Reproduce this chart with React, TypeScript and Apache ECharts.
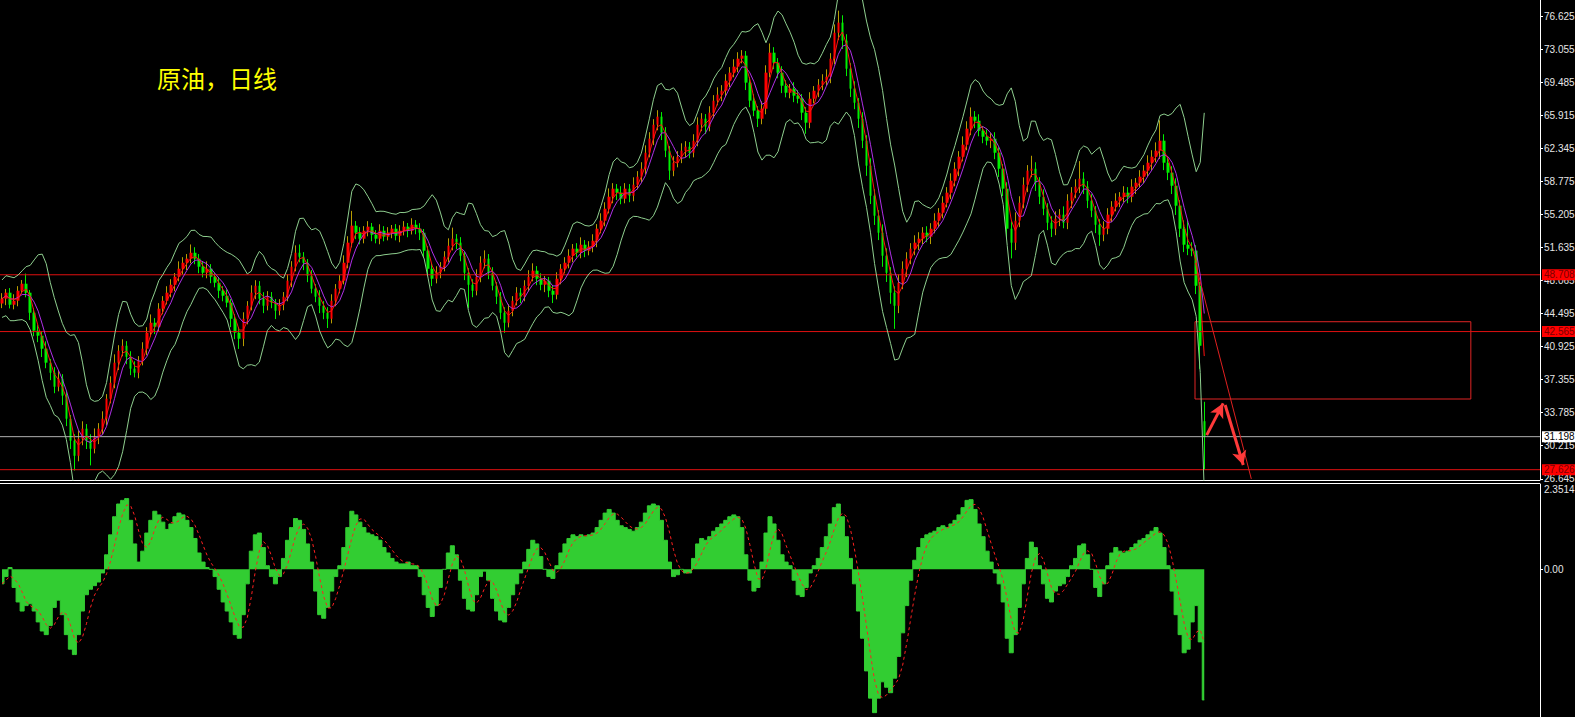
import React, { useEffect, useRef } from "react";
import * as echarts from "echarts";

// ---------------- data ----------------
const title = "原油，日线";

// closing prices, one bar per ~4 trading days (oldest -> newest)
const closes = [
  46.12, 46.77, 45.47, 45.9, 46.98, 47.74, 46.77, 44.6, 42.66, 42.12,
  40.71, 39.2, 38.11, 36.6, 37.46, 35.63, 33.14, 30.76, 29.13, 30.97,
  32.06, 30.76, 29.89, 31.19, 32.06, 33.14, 35.3, 37.03, 39.2, 40.49,
  41.03, 39.84, 38.55, 38.11, 39.41, 40.71, 42.44, 43.52, 43.09, 45.04,
  45.9, 46.77, 47.63, 48.5, 49.36, 50.01, 50.45, 51.09, 50.45, 49.58,
  48.93, 49.36, 48.5, 47.85, 46.98, 46.44, 45.69, 43.95, 42.44, 41.79,
  43.95, 45.36, 46.77, 47.52, 46.12, 45.36, 46.34, 45.69, 44.82, 45.47,
  46.34, 48.07, 49.58, 51.09, 50.66, 50.01, 48.61, 47.2, 46.34, 45.36,
  44.6, 43.95, 45.9, 47.2, 48.07, 50.01, 52.18, 54.02, 53.26, 52.61,
  53.47, 53.91, 53.04, 52.61, 53.47, 52.83, 53.26, 53.69, 52.93, 53.47,
  53.91, 53.47, 54.12, 53.69, 53.26, 51.31, 49.36, 48.28, 48.93, 49.58,
  50.66, 51.85, 52.61, 52.18, 50.77, 48.93, 47.63, 46.98, 48.5, 50.01,
  50.45, 48.93, 47.52, 46.34, 44.6, 43.52, 44.82, 45.9, 46.77, 46.34,
  47.52, 48.5, 49.15, 48.28, 47.63, 48.07, 46.98, 46.55, 48.28, 49.36,
  50.01, 50.77, 51.53, 51.09, 51.96, 51.31, 51.74, 52.39, 53.69, 54.56,
  55.85, 57.15, 58.02, 57.59, 56.94, 58.02, 57.26, 58.45, 59.32, 60.18,
  61.91, 63.43, 64.94, 65.81, 64.08, 62.13, 59.97, 60.83, 61.48, 62.13,
  62.56, 61.91, 63.21, 64.94, 65.59, 64.73, 66.24, 67.54, 68.19, 68.62,
  69.7, 70.57, 71.22, 72.08, 72.41, 69.49, 67.54, 66.46, 65.59, 66.67,
  70.57, 72.73, 71.65, 70.57, 69.16, 68.4, 68.84, 68.08, 67.75, 66.24,
  65.16, 67.75, 68.62, 69.27, 69.7, 70.13, 72.08, 74.89, 75.98, 74.03,
  71.0, 68.84, 67.32, 65.59, 63.21, 60.51, 57.26, 55.1, 53.26, 50.77,
  48.93, 46.77, 45.36, 47.85, 49.36, 50.45, 51.53, 52.18, 52.61, 53.26,
  52.83, 53.69, 54.56, 55.42, 56.5, 57.59, 58.88, 60.18, 61.48, 62.78,
  64.51, 65.81, 65.37, 64.29, 63.64, 63.21, 63.43, 61.91, 60.18, 58.02,
  53.69, 52.18, 54.56, 56.5, 58.45, 59.97, 60.18, 58.67, 57.15, 55.85,
  54.34, 53.69, 54.77, 55.21, 54.34, 56.72, 57.59, 58.24, 59.1, 58.24,
  56.72, 55.64, 54.12, 53.04, 53.69, 55.21, 56.07, 56.72, 57.15, 57.59,
  57.15, 58.24, 58.67, 59.32, 59.97, 60.83, 61.48, 62.13, 63.21, 60.83,
  59.75, 58.34, 56.18, 53.69, 51.96, 51.53, 51.31, 47.52, 41.03, 31.198,
];

// opens equal the previous close except where the picture shows otherwise
const openOverrides: Record<number, number> = { 0: 45.6, 299: 32.87 };

// upper / lower shadow lengths (price units)
const upWick = [
  0.6, 0.4, 0.5, 0.7, 0.5, 0.4, 1.1, 0.3, 0.5, 0.6,
  0.5, 0.8, 0.4, 0.6, 0.9, 0.5, 0.6, 0.4, 0.7, 0.9,
  0.8, 0.5, 0.7, 0.9, 0.6, 0.8, 0.5, 0.7, 0.9, 0.6,
  0.7, 0.5, 0.6, 0.8, 0.5, 0.7, 0.6, 0.9, 0.5, 0.6,
  0.5, 0.7, 0.6, 0.4, 0.8, 0.6, 0.5, 0.9, 0.6, 0.5,
  0.6, 0.8, 0.5, 0.4, 0.6, 0.5, 0.7, 0.4, 0.5, 0.6,
  0.7, 0.5, 0.8, 0.6, 0.5, 0.7, 0.6, 0.5, 0.4, 0.6,
  0.5, 0.7, 0.6, 0.8, 0.9, 0.5, 0.4, 0.6, 0.5, 0.7,
  0.5, 0.6, 0.7, 0.5, 0.6, 0.8, 0.7, 1.6, 0.5, 0.6,
  0.5, 0.6, 0.4, 0.5, 0.7, 0.5, 0.6, 0.4, 0.5, 0.6,
  0.6, 0.4, 0.7, 0.5, 0.6, 0.4, 0.5, 0.6, 0.7, 0.5,
  0.6, 0.8, 1.2, 0.5, 0.6, 0.4, 0.5, 0.6, 0.8, 0.7,
  0.9, 0.5, 0.6, 0.4, 0.5, 0.6, 0.7, 0.5, 0.6, 0.5,
  0.6, 0.7, 0.8, 0.5, 0.6, 0.5, 0.4, 0.6, 0.7, 0.5,
  0.6, 0.7, 0.5, 0.6, 0.8, 0.5, 0.6, 0.7, 0.5, 0.8,
  0.7, 0.9, 0.6, 0.5, 0.7, 0.6, 0.5, 0.8, 0.6, 0.7,
  0.8, 0.7, 0.6, 0.7, 0.5, 0.6, 0.5, 0.7, 0.6, 0.8,
  0.6, 0.5, 0.7, 0.8, 0.6, 0.5, 0.7, 0.6, 0.8, 0.6,
  0.7, 0.6, 0.8, 0.7, 0.6, 0.5, 0.6, 0.7, 0.5, 0.8,
  0.8, 1.0, 0.6, 0.5, 0.7, 0.6, 0.5, 0.7, 0.6, 0.5,
  0.6, 0.7, 0.5, 0.6, 0.7, 0.8, 0.6, 0.9, 1.3, 0.8,
  0.7, 0.6, 0.8, 0.5, 0.7, 0.6, 0.8, 0.7, 0.6, 0.9,
  0.8, 0.6, 0.7, 0.9, 0.8, 0.7, 0.6, 0.8, 0.7, 0.6,
  0.7, 0.6, 0.8, 0.5, 0.7, 0.6, 0.8, 0.7, 0.6, 0.9,
  0.8, 1.0, 0.6, 0.7, 0.5, 0.8, 0.6, 0.7, 0.6, 0.5,
  0.7, 0.8, 0.9, 0.7, 0.8, 0.6, 1.4, 0.7, 0.6, 0.8,
  0.6, 0.7, 0.8, 0.6, 0.9, 0.7, 0.6, 0.8, 1.9, 0.7,
  0.6, 0.7, 0.5, 0.6, 0.8, 0.7, 0.6, 0.8, 0.5, 0.7,
  0.6, 0.8, 0.5, 0.7, 0.6, 0.8, 0.7, 0.9, 2.2, 0.7,
  0.6, 0.7, 0.8, 0.6, 0.9, 2.6, 0.7, 0.6, 0.4, 2.1,
];
const dnWick = [
  0.5, 0.7, 0.4, 0.5, 0.6, 0.3, 0.5, 0.8, 0.6, 0.7,
  0.9, 0.6, 0.8, 0.7, 0.5, 1.0, 0.8, 0.9, 1.6, 0.6,
  0.7, 0.9, 1.8, 0.5, 0.8, 0.6, 0.7, 0.5, 0.6, 0.8,
  0.6, 0.8, 0.7, 0.5, 0.6, 0.5, 0.7, 0.4, 0.8, 0.5,
  0.6, 0.4, 0.5, 0.7, 0.5, 0.6, 0.8, 0.5, 0.6, 0.7,
  0.5, 0.6, 0.7, 0.5, 0.8, 0.6, 0.5, 0.9, 0.7, 1.1,
  0.8, 0.6, 0.5, 0.7, 0.6, 0.8, 0.5, 0.6, 0.9, 0.5,
  0.6, 0.5, 0.7, 0.5, 0.6, 0.8, 0.7, 0.5, 0.6, 0.8,
  0.7, 1.0, 0.5, 0.6, 0.5, 0.4, 0.6, 0.5, 0.7, 0.6,
  0.5, 0.6, 0.7, 0.5, 0.6, 0.5, 0.4, 0.6, 0.5, 0.7,
  0.5, 0.7, 0.4, 0.6, 0.8, 0.7, 0.6, 0.8, 0.5, 0.6,
  0.5, 0.6, 0.5, 0.7, 0.6, 0.8, 2.5, 0.7, 0.5, 0.6,
  0.6, 0.7, 0.5, 0.8, 0.7, 1.1, 0.5, 0.6, 0.5, 0.7,
  0.5, 0.6, 0.5, 0.7, 0.6, 0.8, 0.7, 0.9, 0.5, 0.6,
  0.5, 0.6, 0.7, 0.5, 0.6, 0.7, 0.5, 0.6, 0.7, 0.5,
  0.6, 0.5, 0.7, 0.8, 0.6, 0.5, 0.7, 0.6, 0.5, 0.6,
  0.6, 0.5, 0.7, 0.6, 0.8, 0.7, 1.0, 0.6, 0.5, 0.7,
  0.7, 0.6, 0.5, 0.6, 0.7, 0.8, 0.5, 0.6, 0.5, 0.7,
  0.6, 0.7, 0.5, 0.6, 0.5, 0.8, 0.7, 0.6, 0.9, 0.6,
  0.6, 0.5, 0.7, 0.6, 0.8, 0.5, 0.6, 0.7, 0.5, 0.8,
  1.2, 0.6, 0.5, 0.7, 0.6, 0.5, 0.7, 0.6, 0.8, 0.9,
  0.8, 0.9, 0.7, 1.0, 0.8, 1.1, 0.9, 1.0, 0.8, 1.2,
  1.0, 1.2, 2.5, 0.8, 0.7, 0.9, 0.6, 0.7, 0.8, 0.6,
  0.6, 0.8, 0.5, 0.7, 0.6, 0.5, 0.7, 0.6, 0.8, 0.5,
  0.6, 0.7, 0.8, 0.6, 0.7, 0.5, 0.8, 0.7, 0.9, 0.8,
  1.0, 1.7, 0.8, 0.7, 0.6, 0.8, 0.7, 0.9, 0.8, 0.7,
  0.8, 0.9, 0.7, 0.8, 0.6, 0.7, 0.8, 0.6, 0.7, 0.8,
  0.8, 0.7, 0.9, 1.2, 0.7, 0.6, 0.8, 0.5, 0.7, 0.6,
  0.7, 0.6, 0.8, 0.5, 0.7, 0.6, 0.8, 0.6, 0.9, 0.8,
  0.8, 0.9, 1.0, 0.9, 0.8, 0.7, 0.6, 0.9, 2.5, 3.572,
];

// MACD main line (histogram)
const macdMain = [
  -0.4, -0.2, 0.05, -0.5, -0.9, -1.15, -1.0, -0.95, -1.15, -1.45,
  -1.7, -1.8, -1.55, -1.05, -0.85, -1.25, -1.8, -2.2, -2.35, -1.8,
  -1.15, -0.7, -0.55, -0.45, -0.35, -0.1, 0.4, 0.95, 1.45, 1.8,
  1.9, 1.95, 1.35, 0.7, 0.2, 0.5, 1.0, 1.35, 1.6, 1.5,
  1.3, 1.1, 1.25, 1.45, 1.55, 1.5, 1.35, 1.15, 0.85, 0.45,
  0.2, 0.05, 0.0, -0.2, -0.55, -0.9, -1.15, -1.45, -1.8, -1.9,
  -1.25, -0.4, 0.5, 0.95, 1.0, 0.6, 0.1, -0.2, -0.4, -0.2,
  0.3, 0.8, 1.15, 1.4, 1.35, 1.1, 0.7, 0.2, -0.6, -1.25,
  -1.35, -1.05, -0.6, -0.2, 0.1, 0.6, 1.15, 1.6, 1.5, 1.3,
  1.15, 1.0, 0.95, 0.9, 0.8, 0.6, 0.45, 0.3, 0.2, 0.15,
  0.15, 0.2, 0.1, 0.1, -0.2, -0.7, -1.05, -1.3, -1.0, -0.5,
  0.0, 0.45, 0.65, 0.4, -0.3, -0.8, -1.1, -1.15, -0.7, -0.2,
  -0.05, -0.3, -0.8, -1.15, -1.4, -1.45, -1.05, -0.7, -0.4, -0.1,
  0.2, 0.55, 0.8, 0.7, 0.35, 0.0, -0.2, -0.25, 0.1, 0.45,
  0.7, 0.85, 0.95, 0.9, 0.95, 0.9, 0.95, 1.0, 1.15, 1.35,
  1.55, 1.65, 1.55, 1.35, 1.2, 1.15, 1.1, 1.05, 1.15, 1.3,
  1.55, 1.75, 1.8, 1.75, 1.35, 0.8, 0.2, -0.2, -0.15, 0.0,
  -0.1, -0.1, 0.3, 0.7, 0.85, 0.8, 0.9, 1.05, 1.15, 1.25,
  1.35, 1.45, 1.5, 1.45, 1.15, 0.4, -0.3, -0.6, -0.5, 0.2,
  1.0, 1.45, 1.25, 0.8, 0.4, 0.2, 0.1, -0.3, -0.7, -0.75,
  -0.5, -0.1, 0.1, 0.3, 0.6, 0.9, 1.25, 1.7, 1.8, 1.45,
  0.9, 0.3, -0.4, -1.15, -1.9, -2.8, -3.55, -3.95, -3.55, -3.1,
  -3.25, -3.4, -3.0, -2.4, -1.75, -1.0, -0.3, 0.25, 0.6, 0.85,
  0.95, 1.0, 1.05, 1.15, 1.2, 1.15, 1.25, 1.35, 1.5, 1.7,
  1.9, 1.92, 1.65, 1.25, 0.9, 0.5, 0.2, -0.1, -0.4, -0.9,
  -1.9, -2.3, -1.8, -1.05, -0.4, 0.3, 0.75, 0.6, 0.1, -0.4,
  -0.8, -0.9, -0.6, -0.45, -0.4, -0.2, 0.1, 0.3, 0.65, 0.7,
  0.4, 0.0, -0.5, -0.75, -0.4, 0.1, 0.45, 0.6, 0.5, 0.45,
  0.5, 0.6, 0.7, 0.8, 0.85, 0.95, 1.05, 1.15, 1.0, 0.6,
  0.1, -0.6, -1.25, -1.8, -2.3, -2.2, -1.45, -1.0, -2.0, -3.6,
];

// right-axis tick labels
const priceTicks = [
  26.645, 30.215, 33.785, 37.355, 40.925, 44.495, 48.065, 51.635,
  55.205, 58.775, 62.345, 65.915, 69.485, 73.055, 76.625,
];
const priceMin = 26.51;
const priceMax = 78.43;
const macdMax = 2.3514;
const macdMin = -4.07;
const macdTicks = [0, macdMax];

// horizontal level lines and their kinds
const levels = [48.708, 42.565, 31.198, 27.626];
const levelKinds = ["res", "res", "bid", "res"];

// drawn annotations in (bar index, price)
const boxCorners = [
  [296.7, 43.63],
  [365.3, 35.27],
];
const trendLine = [
  [296.8, 49.98],
  [310.7, 26.63],
];
const arrowUp = [
  [299.6, 31.37],
  [303.7, 34.8],
];
const arrowDown = [
  [304.2, 34.62],
  [308.7, 28.13],
];

const slotCount = 383; // visible bar slots incl. right-side shift
const BB_PERIOD = 6;
const BB_MULT = 2.5;
const MA_MID = 5;
const MA_FAST = 3;
const SIGNAL_PERIOD = 4;

// ---------------- derived series ----------------
const opens = closes.map((c, i) =>
  openOverrides[i] !== undefined ? openOverrides[i] : closes[i - 1]
);
const highs = closes.map((c, i) => Math.max(opens[i], c) + upWick[i]);
const lows = closes.map((c, i) => Math.min(opens[i], c) - dnWick[i]);

const mean = (a: number[]) => a.reduce((s, v) => s + v, 0) / a.length;
function sma(arr: number[], n: number): number[] {
  return arr.map((_, i) => mean(arr.slice(Math.max(0, i - n + 1), i + 1)));
}
const bbBase = sma(closes, BB_PERIOD);
const bbDev = closes.map((_, i) => {
  const pts: number[] = [];
  for (let k = Math.max(0, i - BB_PERIOD + 1); k <= i; k++) pts.push(highs[k], lows[k]);
  const m = mean(pts);
  return Math.sqrt(mean(pts.map((p) => (p - m) * (p - m))));
});
const bbUpper = bbBase.map((m, i) => +(m + BB_MULT * bbDev[i]).toFixed(3));
const bbLower = bbBase.map((m, i) => +(m - BB_MULT * bbDev[i]).toFixed(3));
const maMid = sma(closes, MA_MID).map((v) => +v.toFixed(3));
const maFast = sma(closes, MA_FAST).map((v) => +v.toFixed(3));
const macdSignal = sma(macdMain, SIGNAL_PERIOD).map((v) => +v.toFixed(3));

const cats = Array.from({ length: slotCount }, (_, i) => String(i));
const wickData = closes.map((c, i) => [opens[i], c, lows[i], highs[i]]);
const bodyData = closes.map((c, i) => [
  opens[i],
  c,
  Math.min(opens[i], c),
  Math.max(opens[i], c),
]);

const AXIS_FONT = "Liberation Sans";

export default function App() {
  const ref = useRef<HTMLDivElement>(null);
  useEffect(() => {
    if (!ref.current) return;
    const chart = echarts.init(ref.current, null, { renderer: "svg" });
    const arrowStyle = { color: "#ff3a3a", width: 3, type: "solid" };

    // horizontal price levels as 2-point line series across the whole pane
    const levelSeries = levels.map((v, k) => {
      const bid = levelKinds[k] === "bid";
      const color = bid ? "#b0b0b0" : "#e01010";
      return {
        type: "line",
        name: "level " + v,
        xAxisIndex: 2,
        yAxisIndex: 0,
        data: [
          [-0.5, v],
          [slotCount - 0.5, v],
        ],
        showSymbol: false,
        symbol: "none",
        silent: true,
        z: 3,
        lineStyle: { color, width: 1, type: "solid", opacity: 1 },
        itemStyle: { color },
        endLabel: {
          show: true,
          distance: 2,
          formatter: v.toFixed(3),
          backgroundColor: bid ? "#ffffff" : "#ff0000",
          color: bid ? "#000000" : "#7a0000",
          fontSize: 10,
          fontFamily: AXIS_FONT,
          padding: [1, 1, 0, 2],
        },
      };
    });

    const option: any = {
      animation: false,
      backgroundColor: "#000000",
      grid: [
        { left: 0, right: 35, top: 0, height: 480, outerBoundsMode: "none" },
        { left: 0, right: 35, top: 484, bottom: 0, outerBoundsMode: "none" },
      ],
      xAxis: [
        { type: "category", gridIndex: 0, data: cats, show: false, boundaryGap: true },
        { type: "category", gridIndex: 1, data: cats, show: false, boundaryGap: true },
        { type: "value", gridIndex: 0, min: -0.5, max: slotCount - 0.5, show: false },
      ],
      yAxis: [
        {
          type: "value",
          gridIndex: 0,
          position: "right",
          min: priceMin,
          max: priceMax,
          splitLine: { show: false },
          axisLine: { show: true, onZero: false, lineStyle: { color: "#ffffff", width: 1 } },
          axisTick: {
            show: true,
            length: 3,
            customValues: priceTicks,
            lineStyle: { color: "#ffffff" },
          },
          axisLabel: {
            customValues: priceTicks,
            formatter: (v: number) => v.toFixed(3),
            color: "#e6e6e6",
            fontSize: 10,
            fontFamily: AXIS_FONT,
            margin: 4,
          },
        },
        {
          type: "value",
          gridIndex: 1,
          position: "right",
          min: macdMin,
          max: macdMax,
          splitLine: { show: false },
          axisLine: { show: true, onZero: false, lineStyle: { color: "#ffffff", width: 1 } },
          axisTick: {
            show: true,
            length: 3,
            customValues: [0],
            lineStyle: { color: "#ffffff" },
          },
          axisLabel: {
            customValues: macdTicks,
            formatter: (v: number) => (v === 0 ? "0.00" : "{top|" + v.toFixed(4) + "}"),
            color: "#e6e6e6",
            fontSize: 10,
            fontFamily: AXIS_FONT,
            margin: 4,
            rich: { top: { padding: [11, 0, 0, 0], fontSize: 10, fontFamily: AXIS_FONT, color: "#e6e6e6" } },
          },
        },
      ],
      series: [
        ...levelSeries,
        {
          type: "candlestick",
          name: "wick",
          xAxisIndex: 0,
          yAxisIndex: 0,
          data: wickData,
          barWidth: 1,
          silent: true,
          itemStyle: {
            color: "#b89c00",
            color0: "#00ee00",
            borderColor: "#b89c00",
            borderColor0: "#00ee00",
            borderWidth: 1,
          },
        },
        {
          type: "candlestick",
          name: "body",
          xAxisIndex: 0,
          yAxisIndex: 0,
          data: bodyData,
          barWidth: 3,
          silent: true,
          itemStyle: {
            color: "#ff0000",
            color0: "#00f000",
            borderColor: "#ff0000",
            borderColor0: "#00f000",
            borderWidth: 0,
          },
        },
        {
          type: "line",
          name: "BB upper",
          xAxisIndex: 0,
          yAxisIndex: 0,
          data: bbUpper,
          showSymbol: false,
          silent: true,
          lineStyle: { color: "#8fcf8f", width: 1 },
        },
        {
          type: "line",
          name: "BB lower",
          xAxisIndex: 0,
          yAxisIndex: 0,
          data: bbLower,
          showSymbol: false,
          silent: true,
          lineStyle: { color: "#8fcf8f", width: 1 },
        },
        {
          type: "line",
          name: "MA mid",
          xAxisIndex: 0,
          yAxisIndex: 0,
          data: maMid,
          showSymbol: false,
          silent: true,
          lineStyle: { color: "#b030e8", width: 1 },
        },
        {
          type: "line",
          name: "MA fast",
          xAxisIndex: 0,
          yAxisIndex: 0,
          data: maFast,
          showSymbol: false,
          silent: true,
          lineStyle: { color: "#ff1010", width: 1 },
        },
        {
          type: "line",
          name: "annotations",
          xAxisIndex: 2,
          yAxisIndex: 0,
          data: [],
          silent: true,
          markArea: {
            silent: true,
            label: { show: false },
            itemStyle: { color: "rgba(0,0,0,0)", borderColor: "#e02424", borderWidth: 1 },
            data: [[{ coord: boxCorners[0] }, { coord: boxCorners[1] }]],
          },
          markLine: {
            silent: true,
            symbol: ["none", "none"],
            label: { show: false },
            data: [
              [
                { coord: trendLine[0], lineStyle: { color: "#e02020", width: 1, type: "solid" } },
                { coord: trendLine[1] },
              ],
              [
                { coord: arrowUp[0], symbol: "none", lineStyle: arrowStyle },
                { coord: arrowUp[1], symbol: "arrow", symbolSize: [11, 14] },
              ],
              [
                { coord: arrowDown[0], symbol: "none", lineStyle: arrowStyle },
                { coord: arrowDown[1], symbol: "arrow", symbolSize: [11, 14] },
              ],
            ],
          },
        },
        {
          type: "line",
          name: "MACD",
          xAxisIndex: 1,
          yAxisIndex: 1,
          data: macdMain,
          step: "middle",
          showSymbol: false,
          silent: true,
          lineStyle: { color: "#32cd32", width: 1 },
          areaStyle: { color: "#32cd32", opacity: 1 },
        },
        {
          type: "line",
          name: "Signal",
          xAxisIndex: 1,
          yAxisIndex: 1,
          data: macdSignal,
          showSymbol: false,
          silent: true,
          lineStyle: { color: "#ff2020", width: 1, type: [3, 3] },
        },
      ],
      graphic: [
        {
          type: "line",
          silent: true,
          shape: { x1: 0, y1: 480.5, x2: 1540, y2: 480.5 },
          style: { stroke: "#ffffff", lineWidth: 1 },
        },
        {
          type: "line",
          silent: true,
          shape: { x1: 0, y1: 483.5, x2: 1540, y2: 483.5 },
          style: { stroke: "#ffffff", lineWidth: 1 },
        },
        {
          type: "text",
          left: 157,
          top: 65,
          silent: true,
          style: {
            text: title,
            fill: "#ffff00",
            font: '24px "Noto Sans CJK SC"',
          },
        },
      ],
    };
    chart.setOption(option);
    return () => chart.dispose();
  }, []);
  return (
    <div
      ref={ref}
      style={{ position: "fixed", left: 0, top: 0, width: 1575, height: 717, background: "#000" }}
    />
  );
}
